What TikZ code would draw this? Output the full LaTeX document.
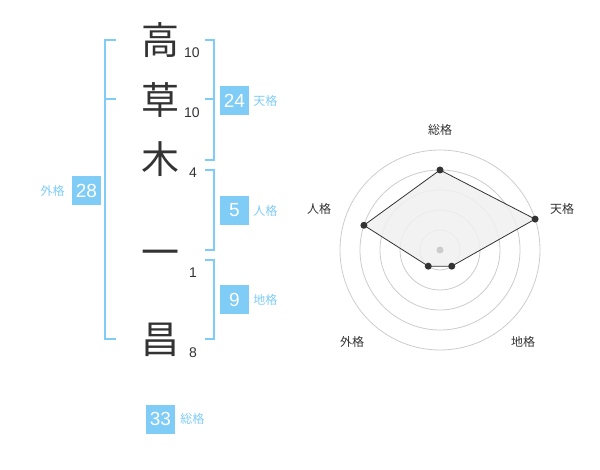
\documentclass[tikz,border=0pt]{standalone}
\usepackage{fontspec}
\setmainfont{Liberation Sans}
\newfontfamily\jp{Noto Sans CJK JP}
\usepackage{tikz}
\usetikzlibrary{positioning, calc}
\definecolor{kblue}{HTML}{7FCCF7}
\definecolor{kdark}{HTML}{333333}
\definecolor{kgrid}{HTML}{CCCCCC}
\definecolor{kfill}{HTML}{F0F0F0}

\begin{document}
\begin{tikzpicture}[
    x=1pt, y=-1pt,
    kanji/.style={font=\jp\fontsize{38}{38}\selectfont, text=kdark, inner sep=0pt},
    strokes/.style={font=\fontsize{14}{14}\selectfont, text=kdark, inner sep=0pt},
    numbox/.style={fill=kblue, text=white, minimum width=29pt, minimum height=29pt, inner sep=0pt, font=\fontsize{19}{19}\selectfont},
    kaku/.style={font=\jp\fontsize{12}{12}\selectfont, text=kblue, inner sep=0pt},
    bracket/.style={draw=kblue, line width=2pt},
    grid/.style={draw=kgrid, line width=0.8pt},
    axislabel/.style={font=\jp\fontsize{12}{12}\selectfont, text=kdark, inner sep=0pt},
    dot/.style={circle, fill=kdark, minimum size=7pt, inner sep=0pt}
]
\useasboundingbox (0,0) rectangle (600,470);

% Name
\node[kanji] (k1) at (160,40) {高};
\node[kanji] (k2) at (160,100) {草};
\node[kanji] (k3) at (160,159) {木};
\node[kanji] (k4) at (160,258) {一};
\node[kanji] (k5) at (160,340) {昌};

% Strokes
\node[strokes] (n1) at (192,53) {10};
\node[strokes] (n2) at (192,113) {10};
\node[strokes] (n3) at (193,173) {4};
\node[strokes] (n4) at (193,272.5) {1};
\node[strokes] (n5) at (193,352.5) {8};

% Brackets
\draw[bracket] (116,40) -- (105,40) -- (105,339) -- (116,339);
\draw[bracket] (105,99) -- (116,99);
\draw[bracket] (205,40) -- (214,40) -- (214,160) -- (205,160);
\draw[bracket] (214,99) -- (205,99);
\draw[bracket] (205,170) -- (214,170) -- (214,250) -- (205,250);
\draw[bracket] (205,260) -- (214,260) -- (214,339) -- (205,339);

% Totals
\node[numbox] (b24) at (234.5,100.5) {24};
\node[kaku, right=4pt of b24] (t24) {天格};
\node[numbox] (b5) at (234.5,210.5) {5};
\node[kaku, right=4pt of b5] (t5) {人格};
\node[numbox] (b9) at (234.5,300) {9};
\node[kaku, right=4pt of b9] (t9) {地格};
\node[numbox] (b28) at (86.5,190.5) {28};
\node[kaku, left=7pt of b28] (t28) {外格};
\node[numbox] (b33) at (160.5,419) {33};
\node[kaku, right=5pt of b33] (t33) {総格};

% Radar
\coordinate (c) at (440,250);
\draw[grid] (c) circle[radius=20];
\draw[grid] (c) circle[radius=40];
\draw[grid] (c) circle[radius=60];
\draw[grid] (c) circle[radius=80];
\draw[grid] (c) circle[radius=100];

\coordinate (p1) at ($(c)+(-90:80)$);
\coordinate (p2) at ($(c)+(-18:100)$);
\coordinate (p3) at ($(c)+(54:20)$);
\coordinate (p4) at ($(c)+(126:20)$);
\coordinate (p5) at ($(c)+(198:80)$);
\draw[kdark, fill=kfill, fill opacity=0.85, line width=0.8pt] (p1) -- (p2) -- (p3) -- (p4) -- (p5) -- cycle;
\fill[kgrid] (c) circle[radius=3.5];
\node[dot] at (p1) {};
\node[dot] at (p2) {};
\node[dot] at (p3) {};
\node[dot] at (p4) {};
\node[dot] at (p5) {};

\node[axislabel] (a1) at ($(c)+(0,-120)$) {総格};
\node[axislabel] (a2) at ($(c)+(122,-41)$) {天格};
\node[axislabel] (a3) at ($(c)+(83,92)$) {地格};
\node[axislabel] (a4) at ($(c)+(-88,92)$) {外格};
\node[axislabel] (a5) at ($(c)+(-121,-41)$) {人格};

\end{tikzpicture}
\end{document}
